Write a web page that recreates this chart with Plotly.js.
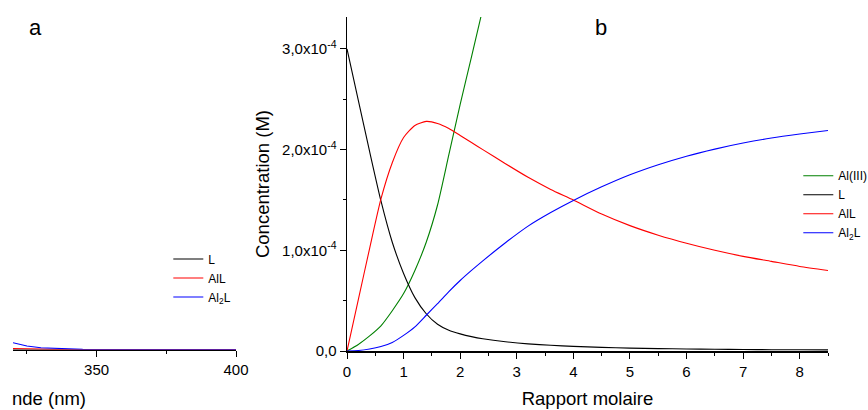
<!DOCTYPE html>
<html>
<head>
<meta charset="utf-8">
<script src="https://cdn.plot.ly/plotly-3.0.1.min.js"></script>
<style>html,body{margin:0;padding:0;background:#fff;}#chart{width:868px;height:410px;}</style>
</head>
<body>
<div id="chart"></div>
<script>
// ---- Panel a (cropped): wavelength (nm) ----
const wavelength = [320, 325, 330, 335, 340, 345, 350, 355, 360, 365, 370, 375, 380, 385, 390, 395, 400];
const specL      = [0, 0, 0, 0, 0, 0, 0, 0, 0, 0, 0, 0, 0, 0, 0, 0, 0];
const specAlL    = [0.010, 0.005, 0.002, 0.001, 0, 0, 0, 0, 0, 0, 0, 0, 0, 0, 0, 0, 0];
const specAl2L   = [0.068, 0.035, 0.018, 0.010, 0.004, 0.001, 0, 0, 0, 0, 0, 0, 0, 0, 0, 0, 0];

// ---- Panel b: speciation vs molar ratio ----
const ratio   = [0, 0.2, 0.4, 0.6, 0.8, 1.0, 1.2, 1.4, 1.6, 1.8, 2.0, 2.2, 2.4, 2.8, 3.2, 3.6, 4.0, 4.5, 5.0, 5.5, 6.0, 6.5, 7.0, 7.5, 8.0, 8.5];
const concL   = [3.00e-4, 2.49e-4, 1.98e-4, 1.49e-4, 1.08e-4, 0.77e-4, 0.53e-4, 0.37e-4, 0.265e-4, 0.205e-4, 0.17e-4, 0.143e-4, 0.122e-4, 0.092e-4, 0.071e-4, 0.057e-4, 0.046e-4, 0.036e-4, 0.029e-4, 0.024e-4, 0.020e-4, 0.017e-4, 0.015e-4, 0.013e-4, 0.012e-4, 0.011e-4];
const concAlL = [0, 0.51e-4, 1.02e-4, 1.51e-4, 1.87e-4, 2.12e-4, 2.24e-4, 2.28e-4, 2.26e-4, 2.21e-4, 2.14e-4, 2.07e-4, 2.00e-4, 1.86e-4, 1.725e-4, 1.605e-4, 1.50e-4, 1.36e-4, 1.245e-4, 1.15e-4, 1.07e-4, 1.00e-4, 0.94e-4, 0.89e-4, 0.84e-4, 0.80e-4];
const concAl2L= [0, 0.005e-4, 0.02e-4, 0.045e-4, 0.085e-4, 0.155e-4, 0.24e-4, 0.355e-4, 0.47e-4, 0.59e-4, 0.70e-4, 0.80e-4, 0.895e-4, 1.075e-4, 1.24e-4, 1.375e-4, 1.495e-4, 1.63e-4, 1.75e-4, 1.85e-4, 1.935e-4, 2.005e-4, 2.065e-4, 2.115e-4, 2.155e-4, 2.19e-4];
const ratioAl = [0, 0.2, 0.4, 0.6, 0.8, 1.0, 1.2, 1.4, 1.6, 1.8, 2.0, 2.2, 2.4];
const concAl  = [0, 0.065e-4, 0.15e-4, 0.25e-4, 0.40e-4, 0.57e-4, 0.80e-4, 1.08e-4, 1.45e-4, 1.95e-4, 2.45e-4, 2.92e-4, 3.40e-4];

// tick labels
const yTickVals = [0, 1e-4, 2e-4, 3e-4];
const yTickText = ['0,0', '1,0x10<sup>-4</sup>', '2,0x10<sup>-4</sup>', '3,0x10<sup>-4</sup>'];
const yMinorVals = [0.5e-4, 1.5e-4, 2.5e-4];

const BLACK = '#000000', RED = '#ff0000', BLUE = '#0000ff', GREEN = '#008000';
const LW = 1.1;
const lineOf = c => ({color: c, width: LW, shape: 'spline', smoothing: 0.6});

const traces = [
  {x: wavelength, y: specL, xaxis: 'x', yaxis: 'y', mode: 'lines', name: 'L', line: {color: BLACK, width: LW}, legend: 'legend'},
  {x: wavelength, y: specAlL, xaxis: 'x', yaxis: 'y', mode: 'lines', name: 'AlL', line: {color: RED, width: LW}, legend: 'legend'},
  {x: wavelength, y: specAl2L, xaxis: 'x', yaxis: 'y', mode: 'lines', name: 'Al<sub>2</sub>L', line: {color: BLUE, width: LW}, legend: 'legend'},
  {x: ratioAl, y: concAl, xaxis: 'x2', yaxis: 'y2', mode: 'lines', name: 'Al(III)', line: lineOf(GREEN), legend: 'legend2'},
  {x: ratio, y: concL, xaxis: 'x2', yaxis: 'y2', mode: 'lines', name: 'L', line: lineOf(BLACK), legend: 'legend2'},
  {x: ratio, y: concAlL, xaxis: 'x2', yaxis: 'y2', mode: 'lines', name: 'AlL', line: lineOf(RED), legend: 'legend2'},
  {x: ratio, y: concAl2L, xaxis: 'x2', yaxis: 'y2', mode: 'lines', name: 'Al<sub>2</sub>L', line: lineOf(BLUE), legend: 'legend2'}
];

const W = 868, H = 410;
const px = v => v / W;
const py = v => 1 - v / H;

const axisCommon = {
  showline: true, linecolor: BLACK, linewidth: 1.5, mirror: false,
  ticks: 'outside', ticklen: 6, tickwidth: 1, tickcolor: BLACK,
  showgrid: false, zeroline: false, fixedrange: true,
  tickfont: {size: 15, color: BLACK}
};

const layout = {
  width: W, height: H,
  margin: {l: 0, r: 0, t: 0, b: 0, autoexpand: false},
  paper_bgcolor: '#ffffff', plot_bgcolor: 'rgba(0,0,0,0)',
  font: {family: '"Liberation Sans", Arial, sans-serif', color: BLACK},
  showlegend: true,
  xaxis: Object.assign({}, axisCommon, {
    domain: [px(13), px(236)], range: [320, 400], anchor: 'y',
    tick0: 0, dtick: 50, layer: 'below traces',
    minor: {tick0: 0, dtick: 25, ticks: 'outside', ticklen: 3, tickwidth: 1, tickcolor: BLACK}
  }),
  yaxis: {domain: [py(349.5), py(17)], range: [0, 3.317], anchor: 'x', visible: false, fixedrange: true},
  xaxis2: Object.assign({}, axisCommon, {
    domain: [px(347), px(828)], range: [0, 8.5], anchor: 'y2',
    tick0: 0, dtick: 1,
    minor: {tick0: 0, dtick: 0.5, ticks: 'outside', ticklen: 3, tickwidth: 1, tickcolor: BLACK},
    title: {text: 'Rapport molaire', font: {size: 18.5, color: BLACK}, standoff: 13}
  }),
  yaxis2: Object.assign({}, axisCommon, {
    domain: [py(351), py(17)], range: [0, 3.317e-4], anchor: 'x2',
    tickmode: 'array', tickvals: yTickVals, ticktext: yTickText,
    minor: {tickmode: 'array', tickvals: yMinorVals, ticks: 'outside', ticklen: 3, tickwidth: 1, tickcolor: BLACK},
    title: {text: 'Concentration (M)', font: {size: 18.5, color: BLACK}, standoff: 7}
  }),
  legend: {
    x: px(168.3), xanchor: 'left', y: py(278), yanchor: 'middle',
    bgcolor: 'rgba(0,0,0,0)', borderwidth: 0, font: {size: 12, color: BLACK}, tracegroupgap: 0
  },
  legend2: {
    x: px(798.3), xanchor: 'left', y: py(204.3), yanchor: 'middle',
    bgcolor: 'rgba(0,0,0,0)', borderwidth: 0, font: {size: 12, color: BLACK}, tracegroupgap: 0
  },
  annotations: [
    {text: 'a', xref: 'paper', yref: 'paper', x: px(35.5), y: py(27.3), xanchor: 'center', yanchor: 'middle', showarrow: false, font: {size: 22, color: BLACK}},
    {text: 'b', xref: 'paper', yref: 'paper', x: px(601), y: py(27.3), xanchor: 'center', yanchor: 'middle', showarrow: false, font: {size: 22, color: BLACK}},
    {text: 'nde (nm)', xref: 'paper', yref: 'paper', x: px(88.3), y: py(398), xanchor: 'right', yanchor: 'middle', showarrow: false, font: {size: 18.5, color: BLACK}}
  ]
};

Plotly.newPlot('chart', traces, layout, {displayModeBar: false, staticPlot: true});
</script>
</body>
</html>
